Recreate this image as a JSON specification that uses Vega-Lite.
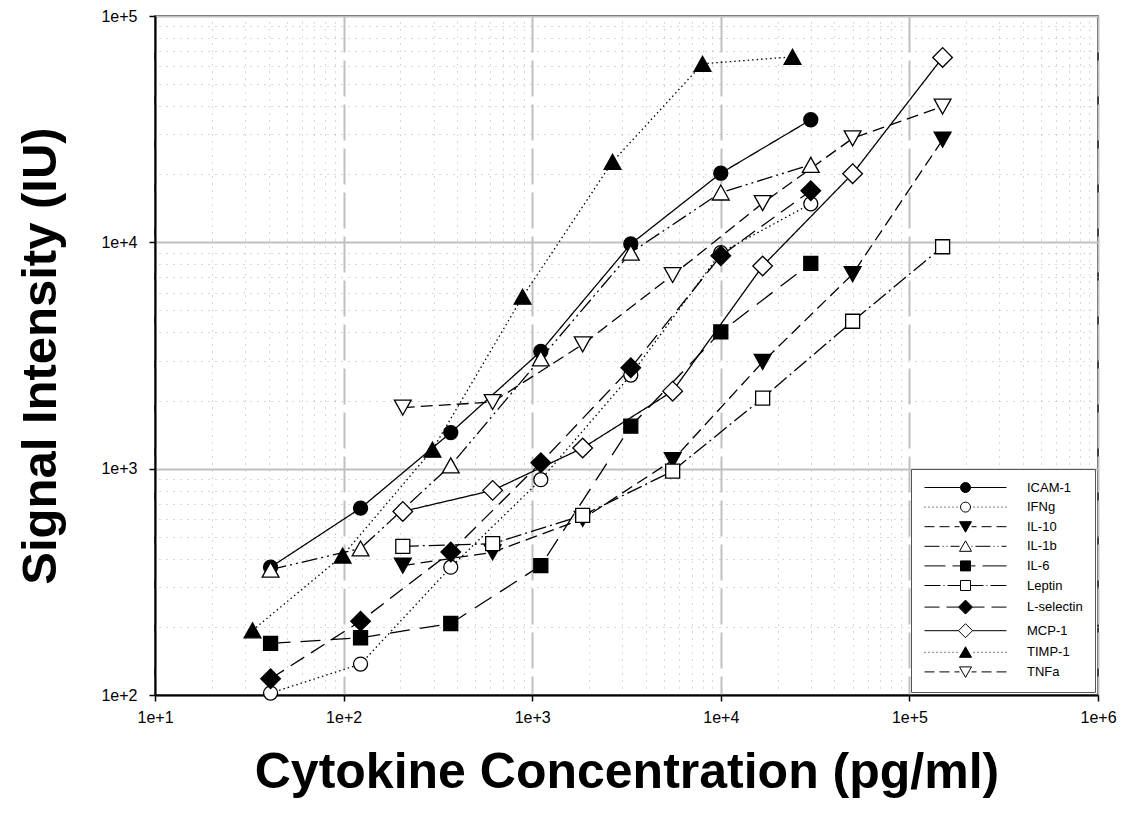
{
  "$schema": "https://vega.github.io/schema/vega-lite/v6.json",
  "autosize": "none",
  "width": 943,
  "height": 679,
  "padding": {"left": 155, "top": 16, "right": 34, "bottom": 121},
  "background": "white",
  "config": {
    "view": {"stroke": "black", "strokeWidth": 1.5},
    "font": "Liberation Sans"
  },
  "datasets": {
    "d": [
      {"series": "ICAM-1", "conc": 41, "signal": 367},
      {"series": "ICAM-1", "conc": 123, "signal": 669},
      {"series": "ICAM-1", "conc": 370, "signal": 1443},
      {"series": "ICAM-1", "conc": 1111, "signal": 3300},
      {"series": "ICAM-1", "conc": 3333, "signal": 9830},
      {"series": "ICAM-1", "conc": 10000, "signal": 20200},
      {"series": "ICAM-1", "conc": 30000, "signal": 34800},
      {"series": "IFNg", "conc": 41, "signal": 102},
      {"series": "IFNg", "conc": 123, "signal": 137},
      {"series": "IFNg", "conc": 370, "signal": 367},
      {"series": "IFNg", "conc": 1111, "signal": 894},
      {"series": "IFNg", "conc": 3333, "signal": 2590},
      {"series": "IFNg", "conc": 10000, "signal": 9000},
      {"series": "IFNg", "conc": 30000, "signal": 14800},
      {"series": "IL-10", "conc": 206, "signal": 373},
      {"series": "IL-10", "conc": 617, "signal": 427},
      {"series": "IL-10", "conc": 1852, "signal": 600},
      {"series": "IL-10", "conc": 5556, "signal": 1090},
      {"series": "IL-10", "conc": 16667, "signal": 2960},
      {"series": "IL-10", "conc": 50000, "signal": 7240},
      {"series": "IL-10", "conc": 150000, "signal": 28400},
      {"series": "IL-1b", "conc": 41, "signal": 358},
      {"series": "IL-1b", "conc": 123, "signal": 444},
      {"series": "IL-1b", "conc": 370, "signal": 1034},
      {"series": "IL-1b", "conc": 1111, "signal": 3070},
      {"series": "IL-1b", "conc": 3333, "signal": 9000},
      {"series": "IL-1b", "conc": 10000, "signal": 16600},
      {"series": "IL-1b", "conc": 30000, "signal": 22000},
      {"series": "IL-6", "conc": 41, "signal": 169},
      {"series": "IL-6", "conc": 123, "signal": 179},
      {"series": "IL-6", "conc": 370, "signal": 207},
      {"series": "IL-6", "conc": 1111, "signal": 373},
      {"series": "IL-6", "conc": 3333, "signal": 1540},
      {"series": "IL-6", "conc": 10000, "signal": 4020},
      {"series": "IL-6", "conc": 30000, "signal": 8080},
      {"series": "Leptin", "conc": 206, "signal": 454},
      {"series": "Leptin", "conc": 617, "signal": 466},
      {"series": "Leptin", "conc": 1852, "signal": 622},
      {"series": "Leptin", "conc": 5556, "signal": 976},
      {"series": "Leptin", "conc": 16667, "signal": 2050},
      {"series": "Leptin", "conc": 50000, "signal": 4480},
      {"series": "Leptin", "conc": 150000, "signal": 9560},
      {"series": "L-selectin", "conc": 41, "signal": 118},
      {"series": "L-selectin", "conc": 123, "signal": 212},
      {"series": "L-selectin", "conc": 370, "signal": 428},
      {"series": "L-selectin", "conc": 1111, "signal": 1063},
      {"series": "L-selectin", "conc": 3333, "signal": 2790},
      {"series": "L-selectin", "conc": 10000, "signal": 8720},
      {"series": "L-selectin", "conc": 30000, "signal": 16900},
      {"series": "MCP-1", "conc": 206, "signal": 647},
      {"series": "MCP-1", "conc": 617, "signal": 802},
      {"series": "MCP-1", "conc": 1852, "signal": 1234},
      {"series": "MCP-1", "conc": 5556, "signal": 2200},
      {"series": "MCP-1", "conc": 16667, "signal": 7860},
      {"series": "MCP-1", "conc": 50000, "signal": 20100},
      {"series": "MCP-1", "conc": 150000, "signal": 65600},
      {"series": "TIMP-1", "conc": 32.9, "signal": 193},
      {"series": "TIMP-1", "conc": 98.8, "signal": 413},
      {"series": "TIMP-1", "conc": 296, "signal": 1213},
      {"series": "TIMP-1", "conc": 889, "signal": 5750},
      {"series": "TIMP-1", "conc": 2667, "signal": 22700},
      {"series": "TIMP-1", "conc": 8000, "signal": 61500},
      {"series": "TIMP-1", "conc": 24000, "signal": 66000},
      {"series": "TNFa", "conc": 206, "signal": 1862},
      {"series": "TNFa", "conc": 617, "signal": 1970},
      {"series": "TNFa", "conc": 1852, "signal": 3540},
      {"series": "TNFa", "conc": 5556, "signal": 7170},
      {"series": "TNFa", "conc": 16667, "signal": 14900},
      {"series": "TNFa", "conc": 50000, "signal": 28800},
      {"series": "TNFa", "conc": 150000, "signal": 39800}
    ]
  },
  "data": {"name": "d"},
  "resolve": {
    "scale": {"shape": "independent", "fill": "independent"},
    "axis": {"x": "independent", "y": "independent"}
  },
  "layer": [
    {
      "mark": {"type": "line", "color": "black", "strokeWidth": 1.3, "strokeCap": "butt"},
      "encoding": {
        "x": {
          "field": "conc", "type": "quantitative",
          "scale": {"type": "log", "domain": [10, 1000000], "nice": false},
          "axis": {
            "orient": "top", "values": [20,30,40,50,60,70,80,90,200,300,400,500,600,700,800,900,2000,3000,4000,5000,6000,7000,8000,9000,20000,30000,40000,50000,60000,70000,80000,90000,200000,300000,400000,500000,600000,700000,800000,900000],
            "grid": true, "gridDash": [1, 6], "gridColor": "#b0b0b0", "gridWidth": 1,
            "labels": false, "ticks": false, "domain": false, "title": null
          }
        },
        "y": {
          "field": "signal", "type": "quantitative",
          "scale": {"type": "log", "domain": [100, 100000], "nice": false},
          "axis": {
            "orient": "right", "values": [200,300,400,500,600,700,800,900,2000,3000,4000,5000,6000,7000,8000,9000,20000,30000,40000,50000,60000,70000,80000,90000],
            "grid": true, "gridDash": [1, 6], "gridColor": "#b0b0b0", "gridWidth": 1,
            "labels": false, "ticks": false, "domain": false, "title": null
          }
        },
        "detail": {"field": "series"},
        "strokeDash": {
          "field": "series", "type": "nominal", "legend": null,
          "scale": {
            "domain": ["ICAM-1","IFNg","IL-10","IL-1b","IL-6","Leptin","L-selectin","MCP-1","TIMP-1","TNFa"],
            "range": [[1,0],[1.5,3],[12,6],[16,4,2,4,2,4],[20,10],[16,4,2,4],[16,8],[1,0],[1.5,3],[12,6]]
          }
        }
      }
    },
    {
      "mark": {"type": "point", "filled": true, "stroke": "black", "strokeWidth": 1.3, "size": 196, "opacity": 1},
      "encoding": {
        "x": {
          "field": "conc", "type": "quantitative",
          "axis": {
            "orient": "bottom", "values": [10,100,1000,10000,100000,1000000],
            "labelExpr": "'1e+' + round(log(datum.value)/LN10)",
            "grid": true, "gridDash": [36, 8], "gridColor": "#c0c0c0", "gridWidth": 2,
            "domain": true, "domainColor": "black", "domainWidth": 2,
            "ticks": true, "tickSize": 6, "tickColor": "black", "tickWidth": 1.5,
            "labelFont": "Liberation Sans", "labelFontSize": 16, "labelColor": "black", "labelPadding": 8,
            "labelFlush": false, "labelOverlap": false,
            "title": "Cytokine Concentration (pg/ml)", "titleFont": "Liberation Sans", "titleFontSize": 50,
            "titleFontWeight": "bold", "titleColor": "black", "titlePadding": 22
          }
        },
        "y": {
          "field": "signal", "type": "quantitative",
          "axis": {
            "orient": "left", "values": [100,1000,10000,100000],
            "labelExpr": "'1e+' + round(log(datum.value)/LN10)",
            "grid": true, "gridColor": "#c0c0c0", "gridWidth": 2,
            "domain": true, "domainColor": "black", "domainWidth": 2,
            "ticks": true, "tickSize": 6, "tickColor": "black", "tickWidth": 1.5,
            "labelFont": "Liberation Sans", "labelFontSize": 16, "labelColor": "black", "labelPadding": 12,
            "labelFlush": false, "labelOverlap": false,
            "title": "Signal Intensity (IU)", "titleFont": "Liberation Sans", "titleFontSize": 49,
            "titleFontWeight": "bold", "titleColor": "black", "titlePadding": 35
          }
        },
        "shape": {
          "field": "series", "type": "nominal", "legend": null,
          "scale": {
            "domain": ["ICAM-1","IFNg","IL-10","IL-1b","IL-6","Leptin","L-selectin","MCP-1","TIMP-1","TNFa"],
            "range": ["circle","circle","M0,1.07L1.2,-1.07L-1.2,-1.07Z","M0,-1.07L1.2,1.07L-1.2,1.07Z","square","square","M-1.4,0L0,-1.4L1.4,0L0,1.4Z","M-1.4,0L0,-1.4L1.4,0L0,1.4Z","M0,-1.07L1.2,1.07L-1.2,1.07Z","M0,1.07L1.2,-1.07L-1.2,-1.07Z"]
          }
        },
        "fill": {
          "field": "series", "type": "nominal", "legend": null,
          "scale": {
            "domain": ["ICAM-1","IFNg","IL-10","IL-1b","IL-6","Leptin","L-selectin","MCP-1","TIMP-1","TNFa"],
            "range": ["black","white","black","white","black","white","black","white","black","white"]
          }
        }
      }
    },
    {
      "mark": {"type": "point", "filled": true, "stroke": "black", "strokeWidth": 1, "opacity": 0},
      "encoding": {
        "x": {"field": "conc", "type": "quantitative", "axis": null},
        "y": {"field": "signal", "type": "quantitative", "axis": null},
        "shape": {
          "field": "series", "type": "nominal",
          "scale": {
            "domain": ["ICAM-1","IFNg","IL-10","IL-1b","IL-6","Leptin","L-selectin","MCP-1","TIMP-1","TNFa"],
            "range": [
              "M-1,0L6.2,0M8.2,0L15.4,0M8.2,0A1,1,0,1,1,6.2,0A1,1,0,1,1,8.2,0Z",
              "M-1,0L-0.8,0M-0.2,0L0,0M0.6,0L0.8,0M1.4,0L1.6,0M2.2,0L2.4,0M3,0L3.2,0M3.8,0L4,0M4.6,0L4.8,0M5.4,0L5.6,0M8.8,0L9,0M9.6,0L9.8,0M10.4,0L10.6,0M11.2,0L11.4,0M12,0L12.2,0M12.8,0L13,0M13.6,0L13.8,0M14.4,0L14.6,0M15.2,0L15.4,0M8.2,0A1,1,0,1,1,6.2,0A1,1,0,1,1,8.2,0Z",
              "M-1,0L1,0M2,0L4,0M5,0L6,0M8.4,0L9.4,0M10.4,0L12.4,0M13.4,0L15.4,0M7.2,1.1L8.4,-1L6,-1Z",
              "M-1,0L2,0M2.6,0L2.8,0M3.4,0L3.6,0M4.2,0L6,0M8.4,0L8.6,0M9.2,0L12.2,0M12.8,0L13,0M13.6,0L13.8,0M14.4,0L15.4,0M7.2,-1.1L8.4,1L6,1Z",
              "M-1,0L3.2,0M4.6,0L6.2,0M8.2,0L9.2,0M10.6,0L15.4,0M6.2,-1H8.2V1H6.2Z",
              "M-1,0L2.2,0M2.8,0L3,0M3.6,0L6.2,0M8.2,0L10.8,0M11.4,0L11.6,0M12.2,0L15.4,0M6.2,-1H8.2V1H6.2Z",
              "M-1,0L2,0M3.4,0L5.8,0M8.6,0L11,0M12.4,0L15.4,0M5.8,0L7.2,-1.4L8.6,0L7.2,1.4Z",
              "M-1,0L5.8,0M8.6,0L15.4,0M5.8,0L7.2,-1.4L8.6,0L7.2,1.4Z",
              "M-1,0L-0.8,0M-0.2,0L0,0M0.6,0L0.8,0M1.4,0L1.6,0M2.2,0L2.4,0M3,0L3.2,0M3.8,0L4,0M4.6,0L4.8,0M5.4,0L5.6,0M8.8,0L9,0M9.6,0L9.8,0M10.4,0L10.6,0M11.2,0L11.4,0M12,0L12.2,0M12.8,0L13,0M13.6,0L13.8,0M14.4,0L14.6,0M15.2,0L15.4,0M7.2,-1.1L8.4,1L6,1Z",
              "M-1,0L1,0M2,0L4,0M5,0L6,0M8.4,0L9.4,0M10.4,0L12.4,0M13.4,0L15.4,0M7.2,1.1L8.4,-1L6,-1Z"
            ]
          },
          "legend": {
            "title": null, "orient": "bottom-right", "offset": 3,
            "symbolSize": 100, "symbolStrokeColor": "black", "symbolStrokeWidth": 1, "symbolOpacity": 1,
            "labelFont": "Liberation Sans", "labelFontSize": 13, "labelColor": "black", "labelOffset": 91,
            "rowPadding": 4.6, "padding": 12,
            "strokeColor": "#555555", "fillColor": "white",
            "encode": {"symbols": {"update": {"stroke": {"value": "black"}, "strokeWidth": {"value": 1}, "opacity": {"value": 1}}}}
          }
        },
        "fill": {
          "field": "series", "type": "nominal",
          "scale": {
            "domain": ["ICAM-1","IFNg","IL-10","IL-1b","IL-6","Leptin","L-selectin","MCP-1","TIMP-1","TNFa"],
            "range": ["black","white","black","white","black","white","black","white","black","white"]
          },
          "legend": {
            "title": null, "orient": "bottom-right", "offset": 3,
            "symbolSize": 100, "symbolStrokeColor": "black", "symbolStrokeWidth": 1, "symbolOpacity": 1,
            "labelFont": "Liberation Sans", "labelFontSize": 13, "labelColor": "black", "labelOffset": 91,
            "rowPadding": 4.6, "padding": 12,
            "strokeColor": "#555555", "fillColor": "white",
            "encode": {"symbols": {"update": {"stroke": {"value": "black"}, "strokeWidth": {"value": 1}, "opacity": {"value": 1}}}}
          }
        }
      }
    }
  ]
}
